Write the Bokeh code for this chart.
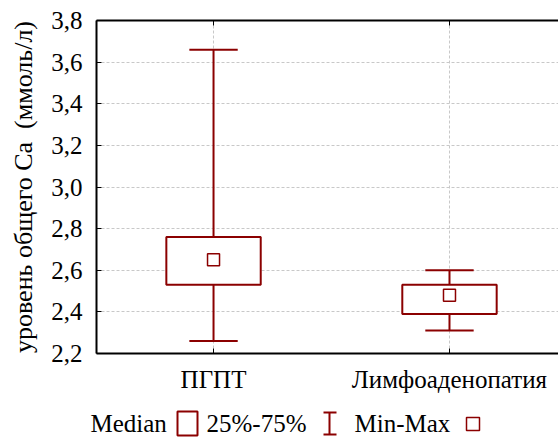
from bokeh.plotting import figure
from bokeh.models import (Range1d, FixedTicker, LinearAxis, CustomJSTickFormatter,
                          ColumnDataSource, Label, CustomLabelingPolicy)
from bokeh.layouts import column
from bokeh.embed import file_html
from bokeh.resources import INLINE

# ---- data ----
categories = ["ПГПТ", "Лимфоаденопатия"]
medians = [2.65, 2.48]
q1 = [2.53, 2.39]
q3 = [2.76, 2.53]
mins = [2.26, 2.31]
maxs = [3.66, 2.60]
y_ticks = [2.2, 2.4, 2.6, 2.8, 3.0, 3.2, 3.4, 3.6, 3.8]
y_label = "уровень общего Ca\u00a0 (ммоль/л)"
legend_labels = ["Median", "25%-75%", "Min-Max"]

RED = "#8b0000"
FONT = "Liberation Serif"
FS = "25px"
BOX_W = 0.40
CAP_W = 0.205

xs = list(range(len(categories)))
src = ColumnDataSource(dict(x=xs, med=medians, q1=q1, q3=q3, lo=mins, hi=maxs,
                            cl=[x - CAP_W / 2 for x in xs], cr=[x + CAP_W / 2 for x in xs]))

p = figure(frame_width=462, frame_height=333, output_backend="svg", toolbar_location=None,
           x_range=Range1d(-0.496, 1.462), y_range=Range1d(y_ticks[0], y_ticks[-1]),
           min_border_left=96, min_border_right=0, min_border_top=20, min_border_bottom=47,
           x_axis_location="below", y_axis_location="left")
p.outline_line_color = None
p.background_fill_color = "white"
p.border_fill_color = "white"

# axes
p.xaxis.ticker = FixedTicker(ticks=xs)
p.xaxis.major_label_overrides = {i: c for i, c in enumerate(categories)}
p.yaxis.ticker = FixedTicker(ticks=y_ticks)
p.yaxis.formatter = CustomJSTickFormatter(code="return tick.toFixed(1).replace('.', ',');")
p.yaxis.axis_label = y_label
for ax in [p.xaxis[0], p.yaxis[0]]:
    ax.axis_line_width = 2
    ax.axis_line_color = "black"
    ax.major_tick_in = 5
    ax.major_tick_out = 0
    ax.minor_tick_line_color = None
    ax.major_tick_line_color = "black"
    ax.major_label_text_font = FONT
    ax.major_label_text_font_size = FS
    ax.major_label_text_color = "black"
    ax.axis_label_text_font = FONT
    ax.axis_label_text_font_size = "26px"
    ax.axis_label_text_font_style = "normal"
    ax.axis_label_text_color = "black"
p.xaxis.major_label_standoff = 12
p.yaxis.major_label_standoff = 14
p.yaxis.axis_label_standoff = 10

# top frame line with inward ticks, no labels
top = LinearAxis(ticker=FixedTicker(ticks=xs), axis_line_width=2, axis_line_color="black",
                 major_tick_in=5, major_tick_out=0, minor_tick_line_color=None,
                 major_label_text_font_size="0px", major_label_standoff=0,
                 major_label_policy=CustomLabelingPolicy(
                     code="for (const i of indices) indices.unset(i)"))
p.add_layout(top, "above")

# grid
p.xgrid.ticker = FixedTicker(ticks=xs)
p.ygrid.ticker = FixedTicker(ticks=y_ticks)
for g in [p.xgrid[0], p.ygrid[0]]:
    g.grid_line_color = "#c8c8c8"
    g.grid_line_dash = "3 2"
    g.grid_line_width = 1

# whiskers
p.segment(x0="x", y0="q3", x1="x", y1="hi", source=src, line_color=RED, line_width=2)
p.segment(x0="x", y0="lo", x1="x", y1="q1", source=src, line_color=RED, line_width=2)
p.segment(x0="cl", y0="hi", x1="cr", y1="hi", source=src, line_color=RED, line_width=2)
p.segment(x0="cl", y0="lo", x1="cr", y1="lo", source=src, line_color=RED, line_width=2)
# boxes
p.vbar(x="x", width=BOX_W, bottom="q1", top="q3", source=src, fill_color="white",
       line_color=RED, line_width=2)
# medians
p.scatter(x="x", y="med", source=src, marker="square", size=12, fill_color="white",
          line_color=RED, line_width=1.5)

# ---- legend strip (coordinates = page pixels) ----
lg = figure(frame_width=558, frame_height=37, output_backend="svg", toolbar_location=None,
            x_range=Range1d(0, 558), y_range=Range1d(437, 400),
            x_axis_location=None, y_axis_location=None,
            min_border=0, min_border_left=0, min_border_right=0,
            min_border_top=0, min_border_bottom=0)
lg.grid.visible = False
lg.outline_line_color = None
lg.border_fill_color = "white"
lg.background_fill_color = "white"

for lx, txt in zip([90, 206, 354], legend_labels):
    lg.add_layout(Label(x=lx, y=423, text=txt, text_font=FONT, text_font_size=FS,
                        text_color="black", text_baseline="middle", text_align="left"))
lg.quad(left=[177], right=[197], top=[411], bottom=[435], fill_color="white",
        line_color=RED, line_width=2)
lg.segment(x0=[329, 323, 323], y0=[412, 412, 434], x1=[329, 336, 336], y1=[434, 412, 434],
           line_color=RED, line_width=2)
lg.quad(left=[466], right=[479], top=[417], bottom=[430], fill_color="white",
        line_color=RED, line_width=1.5)

layout = column(p, column(lg, spacing=0), spacing=0)
open("out.html", "w").write(file_html(layout, INLINE))
